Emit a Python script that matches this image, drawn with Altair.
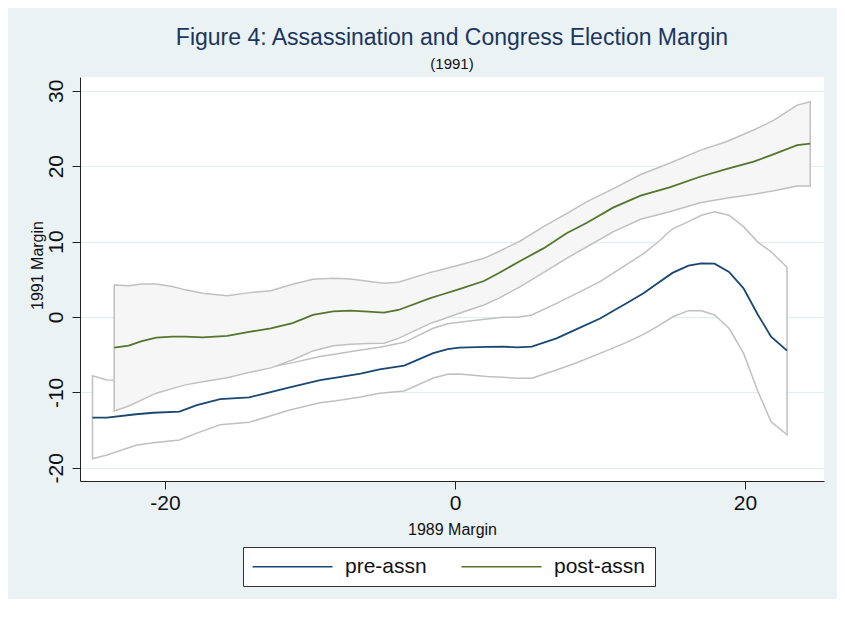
import altair as alt
import pandas as pd

# ---- data ----
pre_x = [-25, -24, -22, -20.8, -19, -17.8, -16.2, -14.2, -13.2, -11.4, -9.3, -8.2, -6.5, -5.2,
         -3.5, -1.5, -0.5, 0.3, 2.2, 3.3, 4.3, 5.3, 7.0, 8.4, 10.0, 11.8, 13.0, 14.0, 15.0,
         16.1, 17.0, 17.9, 18.9, 19.9, 20.9, 21.8, 22.9]
pre_mid = [-13.35, -13.35, -12.9, -12.7, -12.56, -11.7, -10.9, -10.65, -10.2, -9.33, -8.36, -8.05,
           -7.5, -6.94, -6.45, -4.8, -4.25, -4.07, -3.95, -3.94, -4.02, -3.94, -2.83, -1.6, -0.2,
           1.8, 3.14, 4.5, 5.85, 6.8, 7.12, 7.07, 5.97, 3.8, 0.27, -2.6, -4.46]
pre_lo = [-18.8, -18.3, -17.0, -16.67, -16.3, -15.4, -14.3, -13.97, -13.4, -12.33, -11.36, -11.1,
          -10.6, -10.1, -9.8, -8.1, -7.6, -7.56, -7.9, -8.0, -8.13, -8.13, -7.03, -6.06, -4.82,
          -3.4, -2.3, -1.2, 0.0, 0.84, 0.84, 0.27, -1.5, -4.8, -9.9, -13.9, -15.6]
pre_hi = [-7.8, -8.36, -8.4, -8.3, -8.0, -7.7, -7.3, -7.0, -6.8, -6.15, -5.25, -4.9, -4.38, -4.0,
          -3.36, -1.5, -0.9, -0.7, -0.25, -0.04, -0.04, 0.27, 1.8, 3.14, 4.68, 6.9, 8.4, 9.95,
          11.7, 12.64, 13.5, 13.97, 13.5, 11.98, 9.9, 8.66, 6.59]

post_x = [-23.5, -22.5, -21.6, -20.6, -19.5, -18.6, -17.4, -15.7, -14.3, -12.7, -11.2, -9.8, -8.4,
          -7.2, -6.0, -4.9, -3.9, -1.7, -1.0, 0.3, 2.0, 3.0, 4.5, 6.1, 7.7, 9.1, 10.9, 12.8, 14.8,
          16.9, 18.7, 20.6, 22.0, 23.6, 24.5]
post_mid = [-4.07, -3.8, -3.2, -2.74, -2.6, -2.6, -2.7, -2.5, -2.0, -1.5, -0.8, 0.27, 0.75, 0.84,
            0.7, 0.57, 0.93, 2.5, 2.92, 3.7, 4.77, 5.8, 7.43, 9.1, 11.1, 12.5, 14.5, 16.1, 17.2,
            18.6, 19.6, 20.6, 21.6, 22.8, 23.0]
post_lo = [-12.47, -11.8, -11.0, -10.1, -9.5, -9.0, -8.6, -8.05, -7.4, -6.75, -5.7, -4.5, -3.8,
           -3.6, -3.5, -3.49, -2.83, -0.84, -0.4, 0.49, 1.59, 2.47, 4.02, 5.88, 7.78, 9.32, 11.3,
           12.96, 13.97, 15.16, 15.74, 16.27, 16.75, 17.37, 17.37]
post_hi = [4.24, 4.15, 4.38, 4.38, 4.05, 3.6, 3.14, 2.83, 3.2, 3.49, 4.35, 5.0, 5.13, 5.04, 4.75,
           4.47, 4.6, 5.92, 6.23, 6.9, 7.78, 8.66, 10.08, 11.98, 13.7, 15.3, 17.0, 18.9, 20.4,
           22.1, 23.25, 24.8, 26.1, 28.1, 28.55]

series_names = ["pre-assn", "post-assn"]
series_colors = ["#1A476F", "#55752F"]
x_ticks = [-20, 0, 20]
y_ticks = [-20, -10, 0, 10, 20, 30]

FONT = "Liberation Sans"

pre_df = pd.DataFrame({"x": pre_x, "mid": pre_mid, "lo": pre_lo, "hi": pre_hi,
                       "series": series_names[0]})
post_df = pd.DataFrame({"x": post_x, "mid": post_mid, "lo": post_lo, "hi": post_hi,
                        "series": series_names[1]})
lines_df = pd.concat([pre_df, post_df], ignore_index=True)

xscale = alt.Scale(domain=[-25.86, 25.45], nice=False, zero=False)
yscale = alt.Scale(domain=[-21.75, 31.83], nice=False, zero=False)

xaxis = alt.Axis(values=x_ticks, title="1989 Margin", grid=False, tickSize=8,
                 labelExpr="'' + datum.value",
                 labelFontSize=21, labelPadding=3, titleFontSize=16, titleFontWeight="normal",
                 titleY=53, titleBaseline="alphabetic", labelFlush=False)
yaxis = alt.Axis(values=y_ticks, title="1991 Margin", grid=True, gridColor="#E4EDF0",
                 gridWidth=1, tickSize=8, labelFontSize=21, labelAngle=270,
                 labelExpr="'' + datum.value",
                 labelAlign="center", labelBaseline="alphabetic", labelPadding=10,
                 titleFontSize=16, titleFontWeight="normal", titleX=-38, titleY=188,
                 titleBaseline="alphabetic", titleAngle=270, labelFlush=False)

base_x = alt.X("x:Q", scale=xscale, axis=xaxis)

pre_band = alt.Chart(pre_df).mark_area(fill="white", stroke="#C0C0C0", strokeWidth=1.5).encode(
    x=base_x,
    y=alt.Y("lo:Q", scale=yscale, axis=yaxis),
    y2="hi:Q",
)
post_band = alt.Chart(post_df).mark_area(fill="#F6F6F6", stroke="#C0C0C0", strokeWidth=1.5).encode(
    x=base_x,
    y=alt.Y("lo:Q", scale=yscale, axis=yaxis),
    y2="hi:Q",
)
lines = alt.Chart(lines_df).mark_line(strokeWidth=1.8).encode(
    x=base_x,
    y=alt.Y("mid:Q", scale=yscale, axis=yaxis),
    color=alt.Color("series:N", sort=series_names,
                    scale=alt.Scale(domain=series_names, range=series_colors),
                    legend=alt.Legend(orient="none", legendX=163, legendY=470,
                                      direction="horizontal", title=None,
                                      symbolType="M-10,0H10", symbolSize=64,
                                      symbolOffset=30,
                                      symbolStrokeWidth=1.5, symbolFillColor="transparent",
                                      labelFontSize=21, labelBaseline="middle",
                                      labelOffset=42, columnPadding=31, padding=9,
                                      strokeColor="#333333", fillColor="white",
                                      cornerRadius=0, labelLimit=0)),
    detail="series:N",
)

chart = alt.layer(pre_band, post_band, lines).properties(
    width=744,
    height=404,
    autosize=alt.AutoSizeParams(type="none"),
    padding={"left": 72, "top": 69, "right": 13, "bottom": 118},
    background="#EAF2F3",
    title=alt.TitleParams(
        text="Figure 4: Assassination and Congress Election Margin",
        subtitle="(1991)",
        fontSize=23, fontWeight="normal", color="#1C3560", font=FONT,
        subtitleFontSize=15, subtitleColor="#111111", subtitleFont=FONT,
        subtitlePadding=7, anchor="middle", offset=5,
    ),
).configure_view(fill="white", stroke=None).configure_axis(
    labelFont=FONT, titleFont=FONT, labelColor="#111111", titleColor="#111111",
    domainColor="#222222", tickColor="#222222", domainWidth=1, tickWidth=1,
).configure_legend(labelFont=FONT, labelColor="#111111")

chart.save("out.html", embed_options={"renderer": "svg", "actions": False})
